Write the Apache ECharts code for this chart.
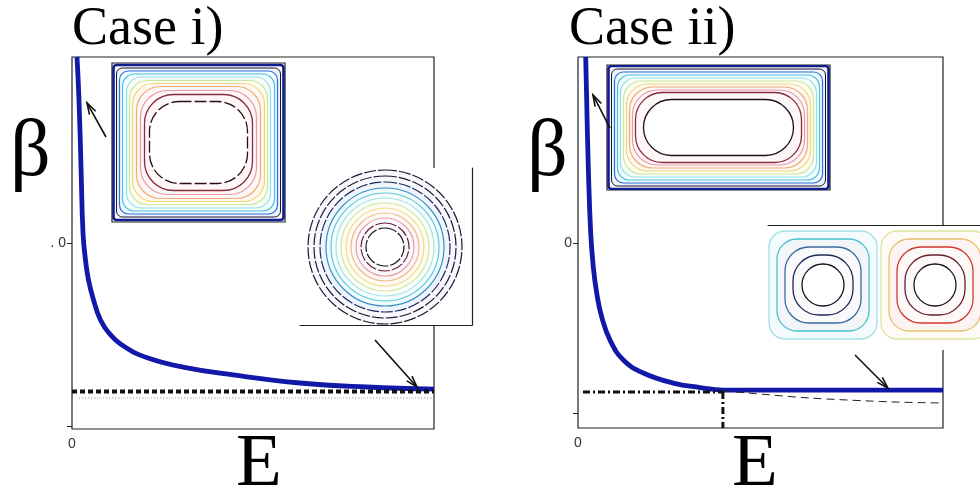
<!DOCTYPE html>
<html><head><meta charset="utf-8">
<script src="https://cdn.jsdelivr.net/npm/echarts@6/dist/echarts.min.js"></script>
<style>html,body{margin:0;padding:0;background:#fff}#c{width:980px;height:491px}</style>
</head><body><div id="c"></div>
<script>
// ---------------- data ----------------
const leftE    = [0.0138,0.0193,0.0249,0.0304,0.0373,0.0456,0.0594,0.0787,0.1022,0.1464,0.2099,0.3066,0.4448,0.6298,0.8149,1.0];
const leftBeta = [2.016,1.781,1.415,1.055,0.907,0.798,0.689,0.579,0.508,0.432,0.372,0.322,0.279,0.235,0.213,0.202];
const leftAsymptote = 0.1885;
const leftLowerLevel = 0.153;

const rightE    = [0.0211,0.0238,0.0282,0.0348,0.0419,0.0512,0.0649,0.0877,0.1241,0.1789,0.2611,0.3342,0.398,1.0];
const rightBeta = [2.094,1.841,1.447,1.059,0.859,0.706,0.565,0.429,0.312,0.235,0.176,0.150,0.135,0.135];
const rightCritStartE = 0.0137;
const rightCritE = 0.397;
const rightCritBeta = 0.1235;
const rightBranchE    = [0.397,0.463,0.636,0.863,0.992];
const rightBranchBeta = [0.129,0.118,0.088,0.065,0.059];

const xTickValues = [0];
const xTickLabels = ['0'];
const leftYTickValues = [0, 1];
const leftYTickLabels = ['', '. 0'];
const rightYTickValues = [0, 1];
const rightYTickLabels = ['', '0'];
const leftYRange = [-0.0164, 2.016];
const rightYRange = [-0.0882, 2.094];

// arrows [E tail, beta tail, E head, beta head]
const leftArrows  = [[0.0939,1.579,0.0414,1.765],[0.837,0.470,0.953,0.213]];
const rightArrows = [[0.0877,1.676,0.041,1.871],[0.759,0.341,0.849,0.147]];

// inset contour levels (half widths, half heights, corner radii)
const sqHalfW = [85,82,79,76,72,69,66,62,58,54,49];
const sqHalfH = [77.5,74.5,71.5,68.5,65.5,62,59,56,52,48,41];
const sqCorner = [3,6,9,12,15,18,21,24,27,29,30];

const circRadius = [77,71,65,59,54,49,44,39,34,29,24,19];

const recHalfW = [110,107,104,101,98,95,92,89,86,83,75];
const recHalfH = [61.5,58.5,55.5,52.5,49.5,46.5,43.5,40.5,37.5,35,28];
const recCorner = [3,6,9,12,15,18,21,23,25,27,28];

const cellCentersX = [55, 167];
const cellHalf = [54,46,38,30,21];
const cellCorner = [16,20,24,26,21];

// ---------------- styles ----------------
const sqColors  = ['#0f1f8f','#15152e','#2f6fd6','#4cbde6','#8fe0ea','#c6eaa0','#f0d870','#f1ac70','#e89aa2','#8a2b3b','#2a0f1a'];
const sqWidths  = [2.6,1,1.2,1.2,1.2,1.2,1.2,1.2,1.2,1.3,1.3];
const circColors = ['#1a1a30','#1a1a30','#202a60','#3a8ec8','#5cc8dc','#9fe2ea','#cfeaa8','#f0dc84','#f0bc8a','#e8a0a4','#6a2034','#1a0f18'];
const recColors = ['#0f1f8f','#15152e','#2f6fd6','#4cbde6','#8fe0ea','#c6eaa0','#f0d870','#f1ac70','#e89aa2','#8a2b3b','#1f1020'];
const recWidths = [2.6,1,1.2,1.2,1.2,1.2,1.2,1.2,1.2,1.3,1.3];
const cellColorsL = ['#a2dfe6','#4cc0cc','#3a6aa0','#1e2a52','#12121e'];
const cellColorsR = ['#dfe3a0','#e6c06c','#cf3a30','#6a1e2e','#1a1420'];
const bandTintWarm = '#f0a0a0';

function tint(hex, a){
  const n=parseInt(hex.slice(1),16);
  const r=(n>>16)&255,g=(n>>8)&255,b=n&255;
  const f=v=>Math.round(255-(255-v)*a);
  return 'rgb('+f(r)+','+f(g)+','+f(b)+')';
}
function bandFills(colors, a, dark){
  return colors.map((c,i)=>{
    if(i===colors.length-1) return '#ffffff';
    const nxt = colors[i+1];
    const n=parseInt(nxt.slice(1),16); const l=((n>>16)&255)+((n>>8)&255)+(n&255);
    return tint(l<250 ? dark : nxt, a);
  });
}

function contourItem(colors, widths, dashes, fills){
  return function(params, api){
    const cx=api.value(0), cy=api.value(1), hw=api.value(2), hh=api.value(3), r=api.value(4);
    const p1=api.coord([cx-hw, cy+hh]);
    const p2=api.coord([cx+hw, cy-hh]);
    const rr=api.size([r,r]);
    const i=params.dataIndex;
    return {type:'rect',
      shape:{x:p1[0], y:p1[1], width:p2[0]-p1[0], height:p2[1]-p1[1], r:Math.min(rr[0],rr[1])},
      style:{fill:fills[i], stroke:colors[i], lineWidth:widths[i], lineDash:dashes[i]}};
  };
}
function arrowItem(params, api){
  const a=api.coord([api.value(0),api.value(1)]), b=api.coord([api.value(2),api.value(3)]);
  const ang=Math.atan2(b[1]-a[1], b[0]-a[0]);
  const L=12, s=0.3;
  const h1=[b[0]-L*Math.cos(ang-s), b[1]-L*Math.sin(ang-s)];
  const h2=[b[0]-L*Math.cos(ang+s), b[1]-L*Math.sin(ang+s)];
  return {type:'group', children:[
    {type:'line', shape:{x1:a[0],y1:a[1],x2:b[0],y2:b[1]}, style:{stroke:'#111', lineWidth:1.6}},
    {type:'polyline', shape:{points:[h1,b,h2]}, style:{stroke:'#111', lineWidth:1.6, fill:null}}
  ]};
}

const zip = (a,b)=>a.map((v,i)=>[v,b[i]]);

// ---------------- axes & grids ----------------
const labelStyle = {fontSize:14, color:'#333', fontFamily:'Liberation Sans'};
function mainX(gi){
  return {type:'value', gridIndex:gi, min:0, max:1, z:1,
    axisLine:{show:false}, splitLine:{show:false},
    axisTick:{show:false},
    axisLabel:{show:true, customValues:xTickValues, formatter:v=>xTickLabels[xTickValues.indexOf(v)] ?? '', margin:8, ...labelStyle}};
}
function mainY(gi, range, vals, labels){
  return {type:'value', gridIndex:gi, min:range[0], max:range[1], z:1,
    axisLine:{show:false}, splitLine:{show:false},
    axisTick:{show:true, customValues:vals, length:5, lineStyle:{color:'#222', width:1}},
    axisLabel:{show:true, customValues:vals, formatter:v=>{const k=vals.findIndex(t=>Math.abs(t-v)<1e-9); return k<0?'':labels[k];}, margin:6, ...labelStyle}};
}
function insetAxis(type, gi, min, max, lineShow, pos){
  const o={type:'value', gridIndex:gi, min:min, max:max, z:6,
    splitLine:{show:false}, axisTick:{show:false}, axisLabel:{show:false},
    axisLine:{show:!!lineShow, onZero:false, lineStyle:{color:'#222', width:1.2}}};
  if(pos) o.position=pos;
  return o;
}

const grids = [
  {left:72, top:57, width:362, height:372, show:true, borderColor:'#222', borderWidth:1.2, backgroundColor:'#fff', z:0},
  {left:578, top:57, width:365, height:371, show:true, borderColor:'#222', borderWidth:1.2, backgroundColor:'#fff', z:0},
  {left:112, top:63, width:173, height:159, show:true, borderColor:'#222', borderWidth:1.2, backgroundColor:'#fff', z:5},
  {left:300, top:168, width:172, height:157, show:true, borderWidth:0, borderColor:'transparent', backgroundColor:'#fff', z:5},
  {left:607, top:65, width:223, height:125, show:true, borderColor:'#222', borderWidth:1.2, backgroundColor:'#fff', z:5},
  {left:768, top:225, width:212, height:125, show:true, borderWidth:0, borderColor:'transparent', backgroundColor:'#fff', z:5}
];
const xAxes = [mainX(0), mainX(1),
  insetAxis('x',2,-86.5,86.5,false),
  insetAxis('x',3,-85,87,true,'bottom'),
  insetAxis('x',4,-111.5,111.5,false),
  insetAxis('x',5,0,212,true,'top')];
const yAxes = [mainY(0,leftYRange,leftYTickValues,leftYTickLabels), mainY(1,rightYRange,rightYTickValues,rightYTickLabels),
  insetAxis('y',2,-79.5,79.5,false),
  insetAxis('y',3,-78,79,true,'right'),
  insetAxis('y',4,-62.5,62.5,false),
  insetAxis('y',5,-65,60,false)];

// ---------------- series ----------------
const blue = '#1218a8';
const series = [
  {type:'line', xAxisIndex:0, yAxisIndex:0, data:zip(leftE,leftBeta), showSymbol:false, smooth:0.45, z:3,
    lineStyle:{color:blue, width:4.8}},
  {type:'line', xAxisIndex:0, yAxisIndex:0, data:[[0,leftAsymptote],[1,leftAsymptote]], showSymbol:false, z:4,
    lineStyle:{color:'#111', width:4, type:[5,3]}},
  {type:'line', xAxisIndex:0, yAxisIndex:0, data:[[0.02,leftLowerLevel],[1,leftLowerLevel]], showSymbol:false, z:3,
    lineStyle:{color:'#888', width:1, type:[1,2]}},
  {type:'custom', xAxisIndex:0, yAxisIndex:0, data:leftArrows, renderItem:arrowItem, z:8},

  {type:'line', xAxisIndex:1, yAxisIndex:1, data:zip(rightE,rightBeta), showSymbol:false, smooth:0.45, z:3,
    lineStyle:{color:blue, width:4.8}},
  {type:'line', xAxisIndex:1, yAxisIndex:1, data:[[rightCritStartE,rightCritBeta],[rightCritE,rightCritBeta]], showSymbol:false, z:4,
    lineStyle:{color:'#111', width:3, type:[7,3,2,3]}},
  {type:'line', xAxisIndex:1, yAxisIndex:1, data:[[rightCritE,rightCritBeta],[rightCritE,rightYRange[0]]], showSymbol:false, z:4,
    lineStyle:{color:'#111', width:3, type:[7,3,2,3]}},
  {type:'line', xAxisIndex:1, yAxisIndex:1, data:zip(rightBranchE,rightBranchBeta), showSymbol:false, smooth:0.3, z:3,
    lineStyle:{color:'#222', width:1, type:[8,5]}},
  {type:'custom', xAxisIndex:1, yAxisIndex:1, data:rightArrows, renderItem:arrowItem, z:8},

  {type:'custom', xAxisIndex:2, yAxisIndex:2, z:7, clip:true,
    data:sqHalfW.map((w,i)=>[0,0,w,sqHalfH[i],sqCorner[i]]),
    renderItem:contourItem(sqColors, sqWidths, sqColors.map((c,i)=> i===sqColors.length-1?[12,3]:null), bandFills(sqColors,0.08,bandTintWarm))},
  {type:'custom', xAxisIndex:3, yAxisIndex:3, z:7, clip:true,
    data:circRadius.map(r=>[0,0,r,r,r]),
    renderItem:contourItem(circColors, circColors.map(()=>1.2), circColors.map((c,i)=> (i<3||i>9)?[12,2]:null), bandFills(circColors,0.08,'#b0b0e0'))},
  {type:'custom', xAxisIndex:4, yAxisIndex:4, z:7, clip:true,
    data:recHalfW.map((w,i)=>[0,0,w,recHalfH[i],recCorner[i]]),
    renderItem:contourItem(recColors, recWidths, recColors.map(()=>null), bandFills(recColors,0.08,bandTintWarm))},
  {type:'custom', xAxisIndex:5, yAxisIndex:5, z:7, clip:true,
    data:cellHalf.map((h,i)=>[cellCentersX[0],0,h,h,cellCorner[i]]),
    renderItem:contourItem(cellColorsL, cellColorsL.map(()=>1.3), cellColorsL.map(()=>null), bandFills(cellColorsL,0.06,'#b0b0e0'))},
  {type:'custom', xAxisIndex:5, yAxisIndex:5, z:7, clip:true,
    data:cellHalf.map((h,i)=>[cellCentersX[1],0,h,h,cellCorner[i]]),
    renderItem:contourItem(cellColorsR, cellColorsR.map(()=>1.3), cellColorsR.map(()=>null), bandFills(cellColorsR,0.06,bandTintWarm))}
];

// ---------------- text ----------------
const serif = '"Liberation Serif", "DejaVu Serif", serif';
function txt(x,y,s,size,align){
  return {type:'text', x:x, y:y, z:20,
    style:{text:s, font:size+'px '+serif, fill:'#000', align:align||'left', verticalAlign:'middle', textAlign:align||'left', textVerticalAlign:'middle'}};
}
const graphic = [
  txt(72, 30, 'Case i)', 54),
  txt(569, 30, 'Case ii)', 54),
  txt(10, 154, 'β', 80),
  txt(527, 154, 'β', 80),
  txt(236, 465, 'E', 75),
  txt(732, 465, 'E', 75)
];

const chart = echarts.init(document.getElementById('c'), null, {renderer:'canvas'});
chart.setOption({animation:false, backgroundColor:'#fff', grid:grids, xAxis:xAxes, yAxis:yAxes, series:series, graphic:graphic});
</script></body></html>
